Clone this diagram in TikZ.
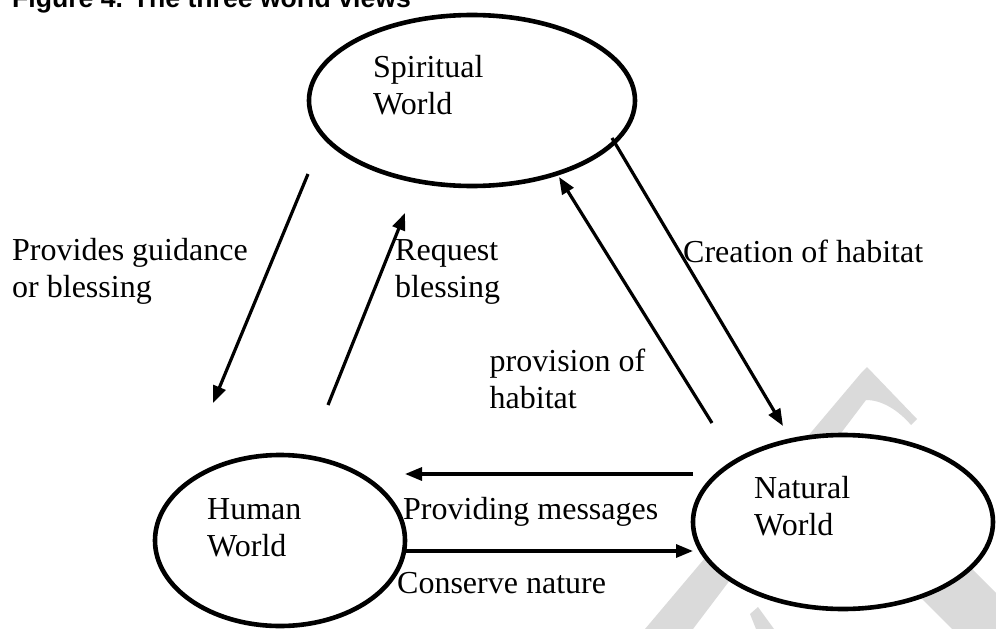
\documentclass[tikz,border=0pt]{standalone}
\usepackage{fontspec}
\setmainfont{Liberation Serif}
\newfontfamily\headfont{Liberation Sans}
\usetikzlibrary{shapes.geometric,arrows.meta}
\definecolor{wmgray}{HTML}{DADADA}
\begin{document}
\begin{tikzpicture}[x=1pt,y=-1pt,
  world/.style={draw, ellipse, line width=4.6pt, fill=white, inner sep=0pt},
  conn/.style={line width=3.2pt, -{Triangle[length=17pt,width=13pt]}},
  lbl/.style={anchor=base west, inner sep=0pt, align=left, font=\fontsize{32}{37}\selectfont},
  wm/.style={fill=wmgray, draw=none}]
\useasboundingbox (0,0) rectangle (996,629);
\clip (0,0) rectangle (996,629);
% title (cut at top, as in the reference)
\node[anchor=base west, inner sep=0pt, font=\headfont\bfseries\fontsize{26.6}{30}\selectfont] (title) at (12,7.5) {Figure 4. The three world views};
% watermark pieces
\fill[wm] (645,629) -- (862,372) -- (867,367) -- (917,419) -- (911,425)
  .. controls (898,410) and (882,400) .. (866,400) -- (693,629) -- cycle;
\fill[wm] (750,614) -- (758,607) -- (774,629) -- (756,629) -- cycle;
\fill[wm] (900,577) -- (940,537) -- (1010,607) -- (1010,629) -- (952,629) -- cycle;
% worlds
\node[world, minimum width=326pt, minimum height=171pt] (spirit) at (472,100.5) {};
\node[world, minimum width=300pt, minimum height=174pt] (natural) at (843,522) {};
\node[world, minimum width=250pt, minimum height=171pt] (human) at (280,540.5) {};
\node[lbl] (spiritT) at (373,114) {Spiritual\\World};
\node[lbl] (naturalT) at (754,535) {Natural\\World};
\node[lbl] (humanT) at (207,556) {Human\\World};
% connector ends
\coordinate (g1) at (308,174); \coordinate (g2) at (213,403);
\coordinate (r1) at (328,405); \coordinate (r2) at (405,213);
\coordinate (p1) at (712,423); \coordinate (p2) at (559,177);
\coordinate (c1) at (612,138); \coordinate (c2) at (783,426);
\coordinate (m1) at (693,474); \coordinate (m2) at (405,474);
\coordinate (n1) at (405,551); \coordinate (n2) at (693,551);
\draw[conn] (g1) -- (g2);
\draw[conn] (r1) -- (r2);
\draw[conn] (p1) -- (p2);
\draw[conn] (c1) -- (c2);
\draw[conn] (m1) -- (m2);
\draw[conn] (n1) -- (n2);
% labels
\node[lbl] (gL) at (12,297) {Provides guidance\\or blessing};
\node[lbl] (rL) at (395,297) {Request\\blessing};
\node[lbl] (pL) at (489.5,408) {provision of\\habitat};
\node[lbl] (cL) at (683,262) {Creation of habitat};
\node[lbl] (mL) at (403,519) {Providing messages};
\node[lbl] (nL) at (397,593) {Conserve nature};
\end{tikzpicture}
\end{document}
